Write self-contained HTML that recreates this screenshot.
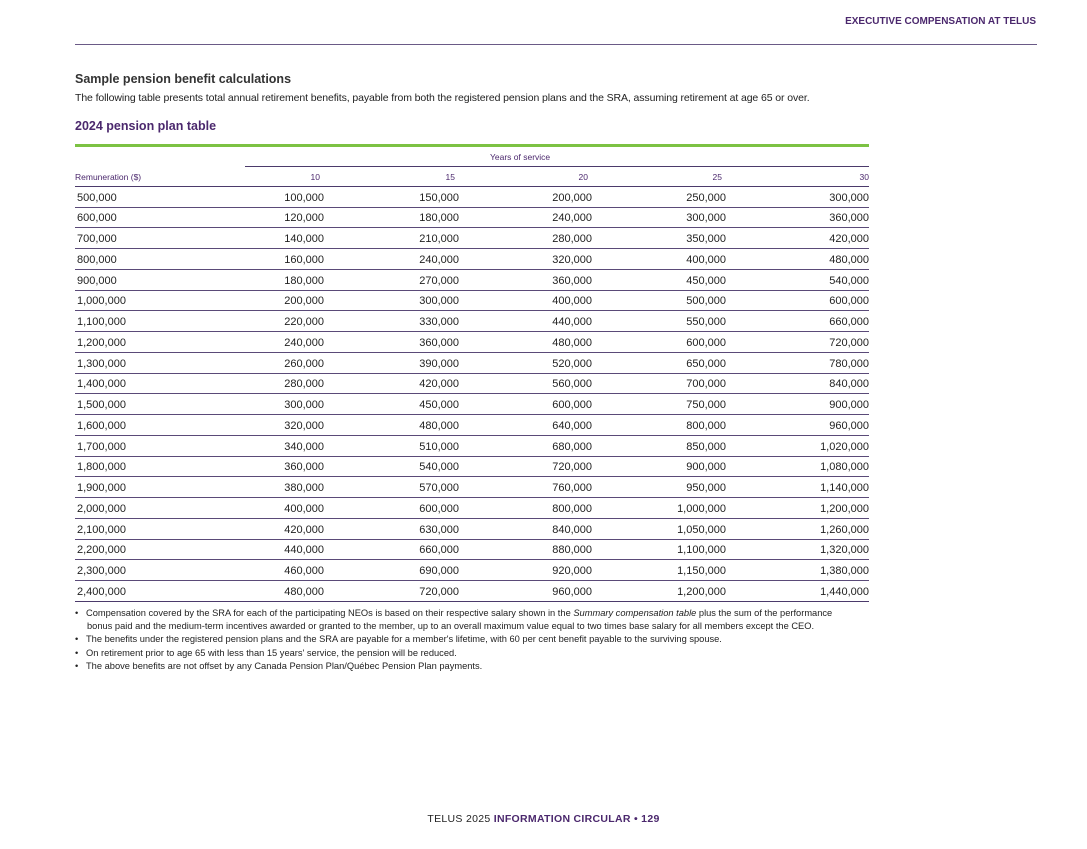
<!DOCTYPE html>
<html><head><meta charset="utf-8"><style>
body{margin:0;width:1087px;height:849px;background:#fff;position:relative;font-family:"Liberation Sans",sans-serif;color:#222;overflow:hidden}
.a{position:absolute;white-space:nowrap}
.hl{position:absolute;height:1px;background:#4b3a6b}
.r{text-align:right}
</style></head><body>
<div class="a" style="right:51px;top:16px;font-size:10px;font-weight:bold;color:#4b286d">EXECUTIVE COMPENSATION AT TELUS</div>
<div class="hl" style="left:75px;top:44px;width:962px;background:#6a5a86"></div>
<div class="a" style="left:75px;top:72px;font-size:12.5px;font-weight:bold;color:#333">Sample pension benefit calculations</div>
<div class="a" style="left:75px;top:92px;font-size:10.5px;letter-spacing:-0.1px;color:#222">The following table presents total annual retirement benefits, payable from both the registered pension plans and the SRA, assuming retirement at age 65 or over.</div>
<div class="a" style="left:75px;top:119px;font-size:12.5px;font-weight:bold;color:#4b286d">2024 pension plan table</div>
<div class="a" style="left:75px;top:144px;width:794px;height:3px;background:#7cc243"></div>
<div class="a" style="left:490px;top:152px;font-size:8.5px;color:#4b286d">Years of service</div>
<div class="hl" style="left:245px;top:166px;width:624px"></div>
<div class="a" style="left:75px;top:172px;font-size:8.5px;color:#4b286d">Remuneration ($)</div>
<div id="tbl"></div>
<div class="a" style="left:75px;top:607px;font-size:9.3px;line-height:13.2px;color:#222">
<div>•&nbsp;&nbsp;&nbsp;Compensation covered by the SRA for each of the participating NEOs is based on their respective salary shown in the <i>Summary compensation table</i> plus the sum of the performance</div>
<div style="padding-left:12px">bonus paid and the medium-term incentives awarded or granted to the member, up to an overall maximum value equal to two times base salary for all members except the CEO.</div>
<div>•&nbsp;&nbsp;&nbsp;The benefits under the registered pension plans and the SRA are payable for a member's lifetime, with 60 per cent benefit payable to the surviving spouse.</div>
<div>•&nbsp;&nbsp;&nbsp;On retirement prior to age 65 with less than 15 years' service, the pension will be reduced.</div>
<div>•&nbsp;&nbsp;&nbsp;The above benefits are not offset by any Canada Pension Plan/Québec Pension Plan payments.</div>
</div>
<div class="a" style="left:0;width:1087px;top:813px;text-align:center;font-size:10.5px;color:#222;letter-spacing:0.3px">TELUS 2025 <b style="color:#4b286d">INFORMATION CIRCULAR • 129</b></div>
<script>
const years=[10,15,20,25,30];
const remuneration=[500000,600000,700000,800000,900000,1000000,1100000,1200000,1300000,1400000,1500000,1600000,1700000,1800000,1900000,2000000,2100000,2200000,2300000,2400000];
const colRight=[324,459,592,726,869];
const fmt=n=>n.toLocaleString('en-US');
const t=document.getElementById('tbl');
years.forEach((y,i)=>{
  const d=document.createElement('div');
  
  
  d.className='a r';d.style.cssText=`right:${1087-colRight[i]+(i==4?0:4)}px;top:172px;font-size:8.5px;color:#4b286d`;
  d.textContent=y;t.appendChild(d);
});
const h=document.createElement('div');h.className='hl';h.style.cssText='left:75px;top:186px;width:794px';


t.appendChild(h);
remuneration.forEach((r,k)=>{
  const top=191.5+k*20.75;
  const c=document.createElement('div');c.className='a';
  
  
  c.style.cssText=`left:77px;top:${top}px;font-size:11px`;c.textContent=fmt(r);t.appendChild(c);
  years.forEach((y,i)=>{
    const v=document.createElement('div');v.className='a r';
    
    
    v.style.cssText=`right:${1087-colRight[i]}px;top:${top}px;font-size:11px`;
    v.textContent=fmt(r*y/50);t.appendChild(v);
  });
  const l=document.createElement('div');l.className='hl';
  
  
  l.style.cssText=`left:75px;top:${191.5+k*20.75+15}px;width:794px;${k==remuneration.length-1?'':'background:#5a4a78'}`;
  t.appendChild(l);
});
</script>
</body></html>
